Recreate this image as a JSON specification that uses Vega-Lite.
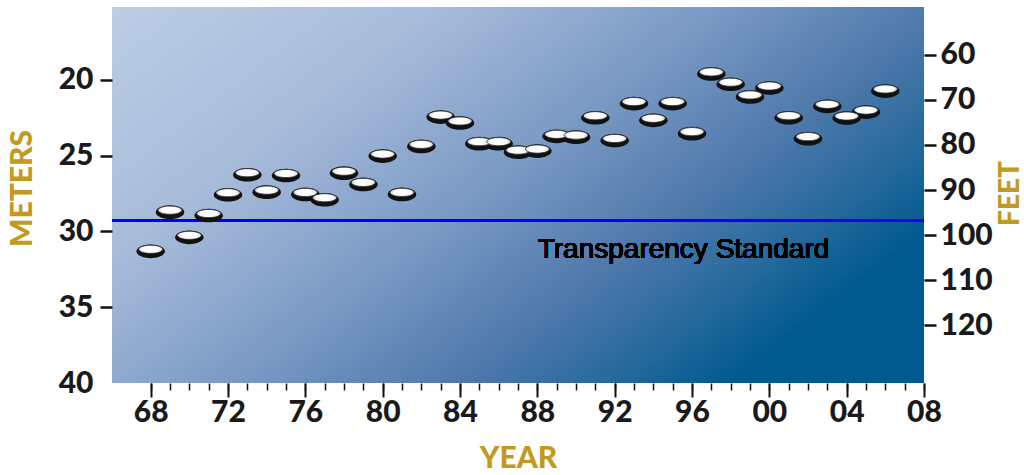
{
  "$schema": "https://vega.github.io/schema/vega-lite/v6.json",
  "width": 812,
  "height": 376,
  "autosize": "none",
  "padding": {"left": 112, "top": 7, "right": 100, "bottom": 92},
  "background": "white",
  "view": {
    "stroke": null,
    "fill": {
      "gradient": "linear", "x1": 0, "y1": 0, "x2": 1, "y2": 0.6,
      "stops": [
        {"offset": 0, "color": "#bccde4"},
        {"offset": 0.3, "color": "#a7bbda"},
        {"offset": 0.55, "color": "#7a9ac4"},
        {"offset": 0.75, "color": "#5079ac"},
        {"offset": 0.9, "color": "#22689b"},
        {"offset": 1, "color": "#005a8f"}
      ]
    }
  },
  "data": {
    "values": [
      {"year": 1968, "meters": 31.28},
      {"year": 1969, "meters": 28.70},
      {"year": 1970, "meters": 30.36},
      {"year": 1971, "meters": 28.92},
      {"year": 1972, "meters": 27.55},
      {"year": 1973, "meters": 26.23},
      {"year": 1974, "meters": 27.38},
      {"year": 1975, "meters": 26.28},
      {"year": 1976, "meters": 27.53},
      {"year": 1977, "meters": 27.88},
      {"year": 1978, "meters": 26.13},
      {"year": 1979, "meters": 26.87},
      {"year": 1980, "meters": 25.00},
      {"year": 1981, "meters": 27.53},
      {"year": 1982, "meters": 24.36},
      {"year": 1983, "meters": 22.43},
      {"year": 1984, "meters": 22.82},
      {"year": 1985, "meters": 24.18},
      {"year": 1986, "meters": 24.18},
      {"year": 1987, "meters": 24.74},
      {"year": 1988, "meters": 24.67},
      {"year": 1989, "meters": 23.70},
      {"year": 1990, "meters": 23.75},
      {"year": 1991, "meters": 22.47},
      {"year": 1992, "meters": 23.97},
      {"year": 1993, "meters": 21.54},
      {"year": 1994, "meters": 22.64},
      {"year": 1995, "meters": 21.54},
      {"year": 1996, "meters": 23.52},
      {"year": 1997, "meters": 19.58},
      {"year": 1998, "meters": 20.26},
      {"year": 1999, "meters": 21.10},
      {"year": 2000, "meters": 20.51},
      {"year": 2001, "meters": 22.47},
      {"year": 2002, "meters": 23.85},
      {"year": 2003, "meters": 21.72},
      {"year": 2004, "meters": 22.49},
      {"year": 2005, "meters": 22.10},
      {"year": 2006, "meters": 20.71}
    ]
  },
  "layer": [
    {
      "mark": {"type": "rule", "color": "#0000ff", "strokeWidth": 2},
      "encoding": {
        "y": {"datum": 29.3, "type": "quantitative", "scale": {"domain": [15.2, 40], "reverse": true, "nice": false, "zero": false}, "axis": null}
      }
    },
    {
      "mark": {"type": "text", "text": "Transparency Standard", "font": "Liberation Sans", "fontSize": 28, "fontWeight": "normal", "fill": "#000000", "align": "center", "baseline": "alphabetic"},
      "encoding": {
        "x": {"datum": 1995.56, "type": "quantitative", "scale": {"domain": [1966, 2008], "nice": false, "zero": false}, "axis": null},
        "y": {"datum": 31.73, "type": "quantitative", "axis": null}
      }
    },
    {
      "mark": {"type": "point", "shape": "M-1,0A1,0.48,0,1,0,1,0A1,0.48,0,1,0,-1,0Z", "size": 812, "filled": true, "fill": "#111111", "opacity": 1, "strokeWidth": 0, "yOffset": 0.5},
      "encoding": {
        "x": {
          "field": "year", "type": "quantitative",
          "scale": {"domain": [1966, 2008], "nice": false, "zero": false},
          "axis": {
            "orient": "bottom",
            "values": [1968,1969,1970,1971,1972,1973,1974,1975,1976,1977,1978,1979,1980,1981,1982,1983,1984,1985,1986,1987,1988,1989,1990,1991,1992,1993,1994,1995,1996,1997,1998,1999,2000,2001,2002,2003,2004,2005,2006,2007,2008],
            "tickSize": 7, "tickWidth": 1.5, "tickColor": "#111111",
            "labels": false, "domain": false, "grid": false, "title": null
          }
        },
        "y": {
          "field": "meters", "type": "quantitative",
          "scale": {"domain": [15.2, 40], "reverse": true, "nice": false, "zero": false},
          "axis": {
            "orient": "left",
            "values": [20, 25, 30, 35, 40],
            "tickSize": 12, "tickWidth": 2.5,
            "tickColor": {"condition": {"test": "datum.value === 40", "value": "transparent"}, "value": "#111111"},
            "domain": false, "grid": false, "labelFlush": false,
            "labelFont": "Lato Black, Lato", "labelFontWeight": 900, "labelFontSize": 30, "labelColor": "#1a1a1a", "labelPadding": 7,
            "title": "METERS", "titleFont": "Lato Black, Lato", "titleFontWeight": 900, "titleFontSize": 30, "titleColor": "#c29a1f",
            "titleAngle": -90, "titleX": -89.5, "titleY": 181, "titleAlign": "center", "titleBaseline": "middle"
          }
        }
      }
    },
    {
      "mark": {
        "type": "point", "shape": "M-1,0A1,0.34,0,1,0,1,0A1,0.34,0,1,0,-1,0Z", "size": 576, "filled": true, "opacity": 1, "yOffset": -1.5,
        "fill": {
          "gradient": "radial", "x1": 0.5, "y1": 0.45, "x2": 0.5, "y2": 0.5, "r1": 0, "r2": 0.55,
          "stops": [
            {"offset": 0, "color": "#ffffff"},
            {"offset": 0.6, "color": "#fafafa"},
            {"offset": 0.88, "color": "#d2d2d2"},
            {"offset": 1, "color": "#8a8a8a"}
          ]
        },
        "stroke": "#2a2a2a", "strokeWidth": 0.8
      },
      "encoding": {
        "x": {
          "field": "year", "type": "quantitative",
          "scale": {"domain": [1966, 2008], "nice": false, "zero": false},
          "axis": {
            "orient": "bottom",
            "values": [1968, 1972, 1976, 1980, 1984, 1988, 1992, 1996, 2000, 2004, 2008],
            "tickSize": 14, "tickWidth": 2, "tickColor": "#111111",
            "domain": false, "grid": false, "labelFlush": false, "labelOverlap": false,
            "labelExpr": "substring(toString(datum.value), 2)",
            "labelFont": "Lato Black, Lato", "labelFontWeight": 900, "labelFontSize": 30, "labelColor": "#1a1a1a", "labelPadding": 0,
            "title": "YEAR", "titleFont": "Lato Black, Lato", "titleFontWeight": 900, "titleFontSize": 30, "titleColor": "#c29a1f",
            "titleY": 75, "titleBaseline": "middle"
          }
        },
        "y": {
          "field": "meters", "type": "quantitative",
          "scale": {"domain": [15.2, 40], "reverse": true, "nice": false, "zero": false},
          "axis": {
            "orient": "right",
            "values": [18.35, 21.325, 24.3, 27.275, 30.25, 33.225, 36.2],
            "labelExpr": "format((datum.value - 18.35) / 0.2975 + 60, '.0f')",
            "tickSize": 12, "tickWidth": 2.5, "tickColor": "#111111",
            "domain": false, "grid": false, "labelFlush": false,
            "labelFont": "Lato Black, Lato", "labelFontWeight": 900, "labelFontSize": 30, "labelColor": "#1a1a1a", "labelPadding": 4,
            "title": "FEET", "titleFont": "Lato Black, Lato", "titleFontWeight": 900, "titleFontSize": 28, "titleColor": "#c29a1f",
            "titleAngle": -90, "titleX": 86, "titleY": 186, "titleAlign": "center", "titleBaseline": "middle"
          }
        }
      }
    }
  ],
  "resolve": {"axis": {"x": "independent", "y": "independent"}}
}
